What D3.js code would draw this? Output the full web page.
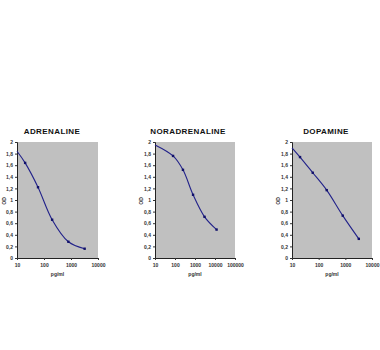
<!DOCTYPE html>
<html><head><meta charset="utf-8">
<script src="https://cdn.jsdelivr.net/npm/d3@7"></script>
<style>body{margin:0;background:#fff;}svg{display:block;}</style>
</head><body>
<script>
const titles = ["ADRENALINE", "NORADRENALINE", "DOPAMINE"];
const adrenalineConc = [10, 20, 60, 200, 800, 3200];
const adrenalineOD = [1.84, 1.64, 1.22, 0.66, 0.28, 0.16];
const noradrenalineConc = [10, 80, 250, 800, 3000, 12000];
const noradrenalineOD = [1.95, 1.76, 1.52, 1.09, 0.71, 0.49];
const dopamineConc = [10, 20, 60, 200, 800, 3200];
const dopamineOD = [1.90, 1.74, 1.47, 1.17, 0.73, 0.33];
const xMaxes = [10000, 100000, 10000];
const yTicks = [0, 0.2, 0.4, 0.6, 0.8, 1, 1.2, 1.4, 1.6, 1.8, 2];
const xTickSets = [[10, 100, 1000, 10000], [10, 100, 1000, 10000, 100000], [10, 100, 1000, 10000]];
const xLabel = "pg/ml";
const yLabel = "OD";

const concs = [adrenalineConc, noradrenalineConc, dopamineConc];
const ods = [adrenalineOD, noradrenalineOD, dopamineOD];

const svg = d3.select("body").append("svg").attr("width", 380).attr("height", 350);
const panels = [
  {left: 17, right: 98, odX: 4, titleX: 52},
  {left: 155, right: 235, odX: 141, titleX: 188},
  {left: 292, right: 372, odX: 278, titleX: 326}
];
const plotTop = 142, plotBottom = 258;
const fmt = d => String(d).replace(".", ",");
const FONT = "Liberation Sans, Arial, sans-serif";

panels.forEach((p, i) => {
  const x = d3.scaleLog().domain([10, xMaxes[i]]).range([p.left, p.right]);
  const y = d3.scaleLinear().domain([0, 2]).range([plotBottom, plotTop]);
  const g = svg.append("g");
  g.append("rect").attr("x", p.left).attr("y", plotTop).attr("width", p.right - p.left).attr("height", plotBottom - plotTop).attr("fill", "#c0c0c0");
  g.append("text").attr("x", p.titleX).attr("y", 134).attr("text-anchor", "middle")
    .attr("font-family", FONT).attr("font-weight", "bold").attr("font-size", 8)
    .attr("letter-spacing", 0.4).attr("fill", "#111").text(titles[i]);
  const ya = g.append("g").attr("transform", `translate(${p.left},0)`)
    .call(d3.axisLeft(y).tickValues(yTicks).tickFormat(fmt).tickSize(2).tickPadding(2));
  const xa = g.append("g").attr("transform", `translate(0,${plotBottom})`)
    .call(d3.axisBottom(x).tickValues(xTickSets[i]).tickFormat(d3.format("d")).tickSize(2).tickPadding(3));
  [ya, xa].forEach(a => {
    a.selectAll("text").attr("font-family", FONT).attr("font-size", 5).attr("font-weight", "bold").attr("fill", "#333");
    a.selectAll("line").attr("stroke", "#333");
    a.select(".domain").attr("stroke", "#222").attr("stroke-width", 1);
  });
  g.append("text").attr("transform", `translate(${p.odX + 2},201) rotate(-90)`).attr("text-anchor", "middle")
    .attr("font-family", FONT).attr("font-size", 5).attr("font-weight", "bold").attr("fill", "#333").text(yLabel);
  g.append("text").attr("x", (p.left + p.right) / 2).attr("y", 276).attr("text-anchor", "middle")
    .attr("font-family", FONT).attr("font-size", 5).attr("font-weight", "bold").attr("fill", "#333").text(xLabel);
  const data = concs[i].map((c, k) => ({c, v: ods[i][k]}));
  const line = d3.line().x(d => x(d.c)).y(d => y(d.v)).curve(d3.curveCatmullRom.alpha(0.5));
  g.append("path").datum(data).attr("d", line).attr("fill", "none").attr("stroke", "#22228a").attr("stroke-width", 1.1);
  g.selectAll("rect.pt").data(data.slice(1)).join("rect").attr("class", "pt")
    .attr("x", d => x(d.c) - 1.2).attr("y", d => y(d.v) - 1.2).attr("width", 2.4).attr("height", 2.4).attr("fill", "#10106a");
});
</script>
</body></html>
